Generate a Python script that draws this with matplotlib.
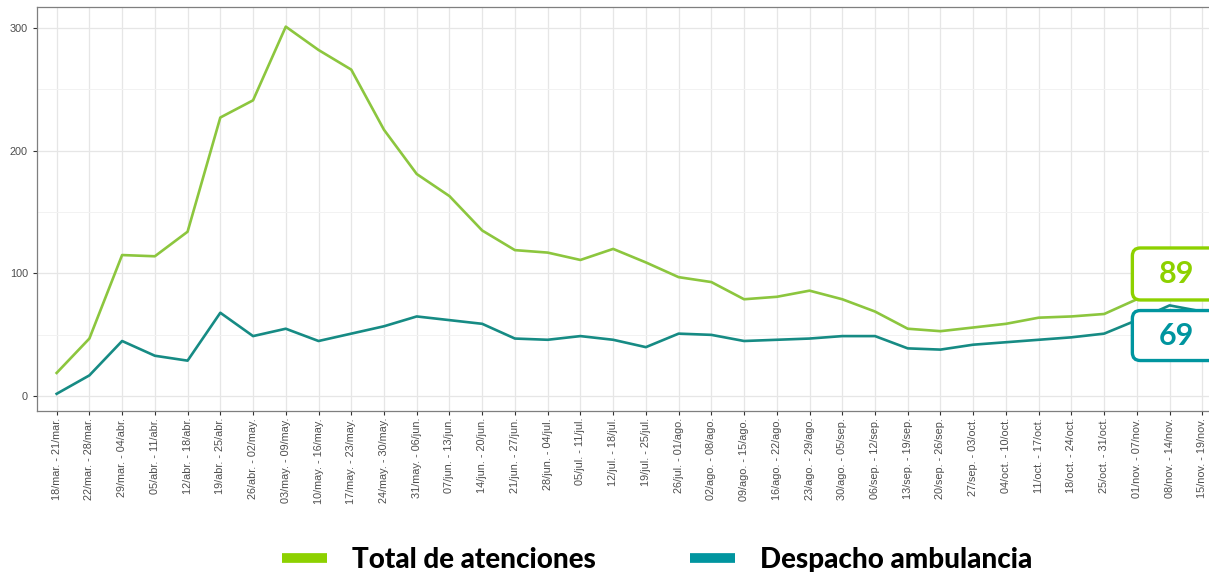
import numpy as np
import matplotlib
matplotlib.use("Agg")
import matplotlib.pyplot as plt
from matplotlib.patches import FancyBboxPatch
from matplotlib.lines import Line2D
from matplotlib.transforms import ScaledTranslation

semanas = ["18/mar. - 21/mar.", "22/mar. - 28/mar.", "29/mar. - 04/abr.", "05/abr. - 11/abr.",
           "12/abr. - 18/abr.", "19/abr. - 25/abr.", "26/abr. - 02/may.", "03/may. - 09/may.",
           "10/may. - 16/may.", "17/may. - 23/may.", "24/may. - 30/may.", "31/may. - 06/jun.",
           "07/jun. - 13/jun.", "14/jun. - 20/jun.", "21/jun. - 27/jun.", "28/jun. - 04/jul.",
           "05/jul. - 11/jul.", "12/jul. - 18/jul.", "19/jul. - 25/jul.", "26/jul. - 01/ago.",
           "02/ago. - 08/ago.", "09/ago. - 15/ago.", "16/ago. - 22/ago.", "23/ago. - 29/ago.",
           "30/ago. - 05/sep.", "06/sep. - 12/sep.", "13/sep. - 19/sep.", "20/sep. - 26/sep.",
           "27/sep. - 03/oct.", "04/oct. - 10/oct.", "11/oct. - 17/oct.", "18/oct. - 24/oct.",
           "25/oct. - 31/oct.", "01/nov. - 07/nov.", "08/nov. - 14/nov.", "15/nov. - 19/nov."]

total = [19, 47, 115, 114, 134, 227, 241, 301, 282, 266, 217, 181,
         163, 135, 119, 117, 111, 120, 109, 97, 93, 79, 81, 86,
         79, 69, 55, 53, 56, 59, 64, 65, 67, 79, 86, 89]

ambulancia = [2, 17, 45, 33, 29, 68, 49, 55, 45, 51, 57, 65,
              62, 59, 47, 46, 49, 46, 40, 51, 50, 45, 46, 47,
              49, 49, 39, 38, 42, 44, 46, 48, 51, 62, 74, 69]

c_total_line = "#8cc63e"
c_amb_line = "#168b84"
c_total_lab = "#8dd100"
c_amb_lab = "#00959f"

W, H = 1209, 572
fig = plt.figure(figsize=(W / 100, H / 100), dpi=100)
ax = fig.add_axes([37 / W, (H - 411) / H, 1185 / W, 404 / H])

x = np.arange(len(semanas))
ax.plot(x, total, color=c_total_line, lw=1.9, zorder=3)
ax.plot(x, ambulancia, color=c_amb_line, lw=1.9, zorder=3)

ax.set_xlim(-0.6, len(semanas) - 0.4)
ax.set_ylim(-12, 317)
ax.set_xticks(x)
ax.set_xticklabels(semanas, rotation=90, fontsize=7.8, color="#4d4d4d",
                   family="Liberation Sans")
ax.set_yticks([0, 100, 200, 300])
ax.set_yticks([50, 150, 250], minor=True)
ax.tick_params(axis="y", labelsize=7.8, labelcolor="#4d4d4d", length=3, color="#333333")
ax.tick_params(axis="y", which="minor", length=0)
ax.tick_params(axis="x", length=3, color="#333333", pad=2)
for lab in ax.get_yticklabels():
    lab.set_family("Liberation Sans")
ax.grid(True, which="major", color="#e6e6e6", lw=0.9)
ax.grid(True, which="minor", axis="y", color="#f2f2f2", lw=0.7)
ax.set_axisbelow(True)
for s in ax.spines.values():
    s.set_color("#7f7f7f")
    s.set_linewidth(0.9)

# etiquetas del último valor
n = len(semanas) - 1
for val, col, y0, h in [(total[-1], c_total_lab, -0.13, 0.52),
                        (ambulancia[-1], c_amb_lab, -0.49, 0.50)]:
    tr = fig.dpi_scale_trans + ScaledTranslation(n, val, ax.transData)
    box = FancyBboxPatch((-0.70, y0), 1.3, h, boxstyle="round,pad=0,rounding_size=0.08",
                         transform=tr, facecolor="white", edgecolor=col, lw=2.4,
                         clip_on=False, zorder=5)
    ax.add_patch(box)
    ax.text(-0.26, y0 + h / 2, str(val), transform=tr, ha="center", va="center",
            fontsize=22, fontweight="bold", color=col, family="Lato",
            clip_on=False, zorder=6)

handles = [Line2D([], [], color=c_total_lab, lw=7, solid_capstyle="butt"),
           Line2D([], [], color=c_amb_lab, lw=7, solid_capstyle="butt")]
fig.legend(handles, ["Total de atenciones", "Despacho ambulancia"], loc="lower center",
           bbox_to_anchor=(0.5436, -0.045), ncol=2, frameon=False, handlelength=1.6,
           handletextpad=0.9, columnspacing=3.4,
           prop={"family": "Lato", "weight": "black", "size": 20})

fig.savefig("out.png", dpi=100)
